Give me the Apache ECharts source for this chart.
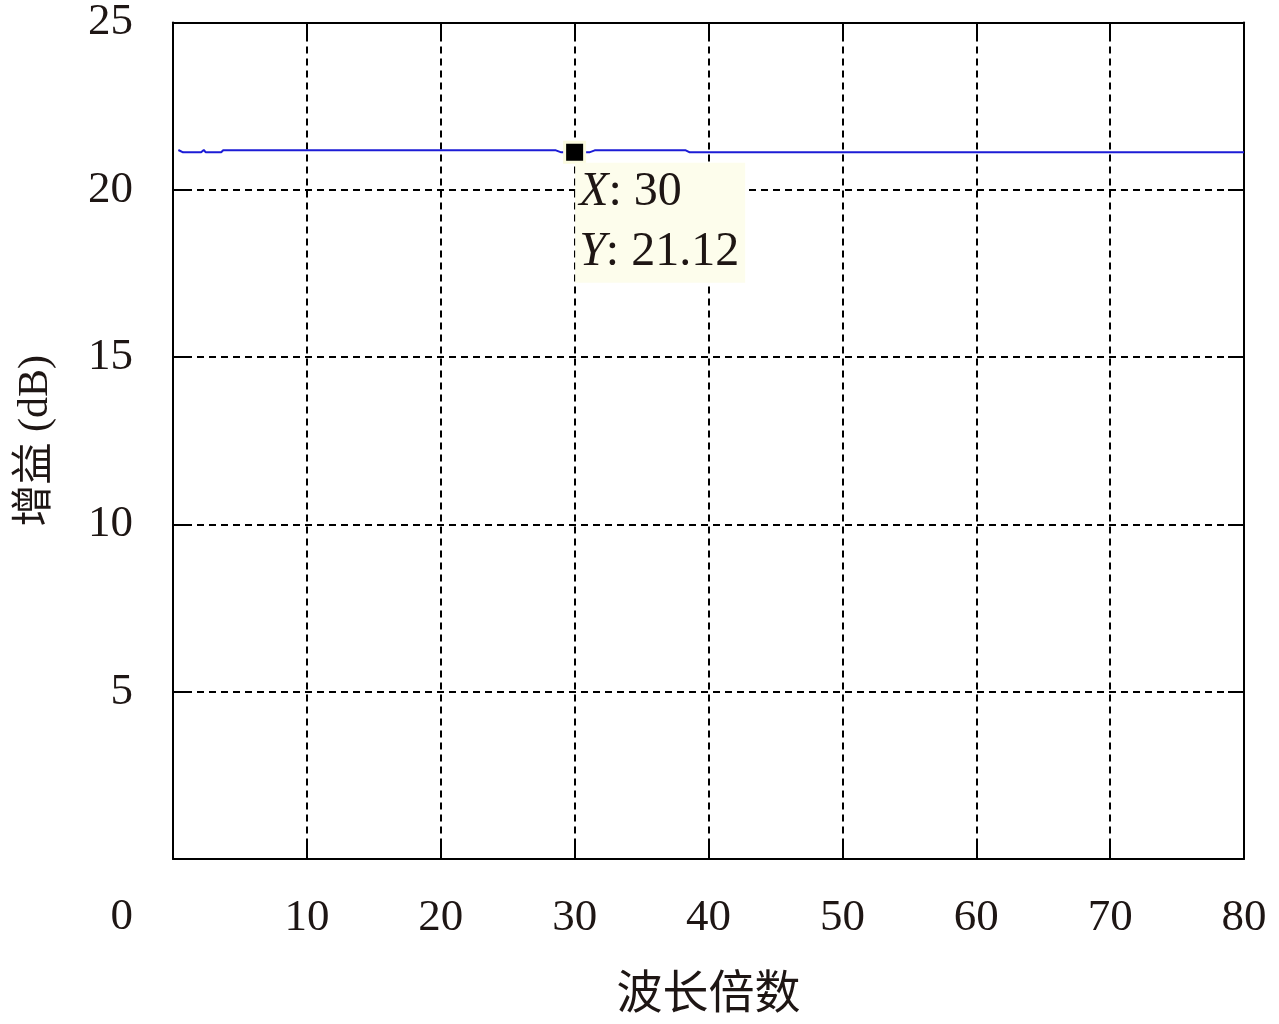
<!DOCTYPE html>
<html>
<head>
<meta charset="utf-8">
<script src="https://cdn.jsdelivr.net/npm/echarts@6/dist/echarts.min.js"></script>
<style>
html,body{margin:0;padding:0;background:#fff;}
#chart1{width:1279px;height:1024px;}
</style>
</head>
<body>
<div id="chart1"></div>
<script>
// 波长倍数 / 增益 (dB)
var wave_x = [0.4, 0.75, 2.1, 2.3, 2.45, 3.6, 3.75, 28.6, 29.0, 30.0, 31.1, 31.5, 38.3, 38.6, 80];
var gain_y = [21.19, 21.12, 21.12, 21.19, 21.12, 21.12, 21.18, 21.18, 21.12, 21.12, 21.12, 21.18, 21.18, 21.12, 21.12];
var mark_point = [30, 21.12];
var x_ticks = [0, 10, 20, 30, 40, 50, 60, 70, 80];
var y_ticks = [0, 5, 10, 15, 20, 25];

var txt = '#1e1614';
var fnt = '"Liberation Serif", "Noto Sans CJK SC", serif';

var lineData = [];
for (var i = 0; i < wave_x.length; i++) {
    lineData.push([wave_x[i], gain_y[i]]);
}

var gridLine = {show: true, lineStyle: {color: '#000', width: 2, type: [7, 5]}};
var tickIn = {show: true, inside: true, length: 16, lineStyle: {color: '#000', width: 2}};
var axLine = {show: true, onZero: false, lineStyle: {color: '#000', width: 2}};

var Chart1 = echarts.init(document.getElementById('chart1'));
var option1 = {
    backgroundColor: '#fff',
    animation: false,
    textStyle: {fontFamily: fnt, color: txt},
    grid: {left: 173, right: 35, top: 20, bottom: 164, containLabel: false},
    xAxis: [{
        type: 'value',
        min: x_ticks[0], max: x_ticks[x_ticks.length - 1], interval: 10,
        name: '波长倍数',
        nameLocation: 'middle',
        nameGap: 114,
        nameTextStyle: {fontSize: 46, color: txt, fontFamily: fnt},
        axisLine: axLine,
        axisTick: tickIn,
        splitLine: gridLine,
        axisLabel: {
            fontSize: 45, color: txt, fontFamily: fnt, margin: 37,
            formatter: function (v) { return v === 0 ? '' : String(v); }
        }
    }, {
        type: 'value', position: 'top',
        min: x_ticks[0], max: x_ticks[x_ticks.length - 1], interval: 10,
        axisLine: axLine, axisTick: tickIn, axisLabel: {show: false}, splitLine: {show: false}
    }],
    yAxis: [{
        type: 'value',
        min: y_ticks[0], max: y_ticks[y_ticks.length - 1], interval: 5,
        name: '增益 (dB)',
        nameLocation: 'middle',
        nameGap: 116,
        nameTextStyle: {fontSize: 42, color: txt, fontFamily: fnt},
        axisLine: axLine,
        axisTick: tickIn,
        splitLine: gridLine,
        axisLabel: {
            fontSize: 45, color: txt, fontFamily: fnt, margin: 40,
            formatter: function (v) { return v === 0 ? '{z|0}' : String(v); },
            rich: {z: {fontSize: 45, color: txt, fontFamily: fnt, padding: [116, 0, 0, 0]}}
        }
    }, {
        type: 'value', position: 'right',
        min: y_ticks[0], max: y_ticks[y_ticks.length - 1], interval: 5,
        axisLine: axLine, axisTick: tickIn, axisLabel: {show: false}, splitLine: {show: false}
    }],
    series: [{
        name: 'gain',
        type: 'line',
        data: lineData,
        showSymbol: false,
        lineStyle: {color: '#1c1cd6', width: 2},
        z: 3
    }, {
        name: 'datatip',
        type: 'scatter',
        data: [mark_point],
        symbol: 'rect',
        symbolSize: 20,
        itemStyle: {color: '#000', borderColor: '#fbfbe0', borderWidth: 3, opacity: 1},
        z: 5,
        label: {
            show: true,
            opacity: 1,
            position: [12, 22],
            align: 'left',
            verticalAlign: 'top',
            backgroundColor: '#fdfdec',
            padding: [0, 6, 0, 4],
            lineHeight: 60,
            fontSize: 48,
            color: txt,
            fontFamily: fnt,
            formatter: function (p) {
                return '{i|X}: ' + p.value[0] + '\n{i|Y}: ' + p.value[1].toFixed(2);
            },
            rich: {i: {fontStyle: 'italic', fontSize: 48, color: txt, fontFamily: fnt, lineHeight: 60}}
        }
    }]
};
Chart1.setOption(option1);

window.onresize = function () {
    Chart1.resize();
}
</script>
</body>
</html>
